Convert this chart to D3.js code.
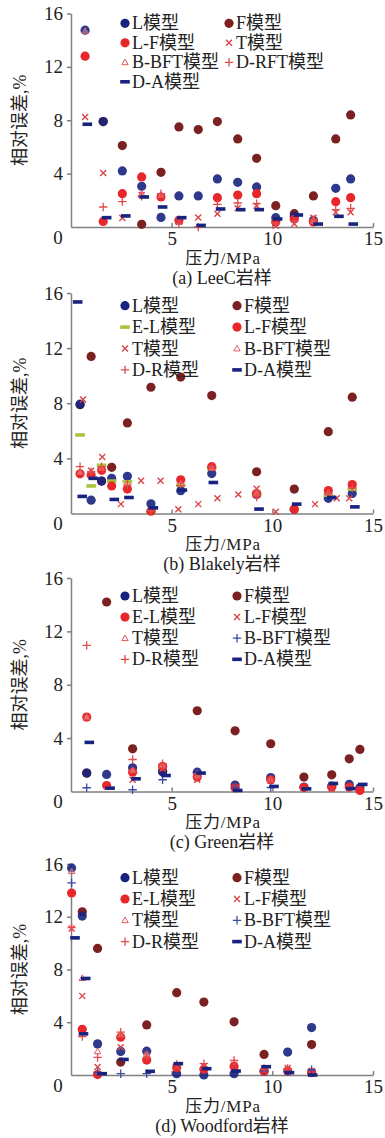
<!DOCTYPE html>
<html><head><meta charset="utf-8">
<script src="https://cdn.jsdelivr.net/npm/d3@7"></script>
<style>
html,body{margin:0;padding:0;background:#fff;}
svg{display:block;}
text{font-family:"Liberation Serif","Noto Sans CJK SC",serif;fill:#222;}
</style></head>
<body><svg id="c" width="385" height="1138"></svg>
<script>
// ---------- tick labels / text ----------
const yTicks = [4, 8, 12, 16];
const xTicks = [5, 10, 15];
const xTitle = "压力/MPa";
const yTitle = "相对误差,%";
const captions = ["(a) LeeC岩样", "(b) Blakely岩样", "(c) Green岩样", "(d) Woodford岩样"];

// ---------- legend labels ----------
const legendA = ["L模型","F模型","L-F模型","T模型","B-BFT模型","D-RFT模型","D-A模型"];
const legendB = ["L模型","F模型","E-L模型","L-F模型","T模型","B-BFT模型","D-R模型","D-A模型"];
const legendC = ["L模型","F模型","E-L模型","L-F模型","T模型","B-BFT模型","D-R模型","D-A模型"];
const legendD = ["L模型","F模型","E-L模型","L-F模型","T模型","B-BFT模型","D-R模型","D-A模型"];

// ---------- (a) LeeC : [pressure MPa, relative error %] ----------
const a_L = [[0.7,14.75],[1.6,7.9],[2.55,4.2],[3.51,3.05],[4.47,0.72],[5.36,2.33],[6.32,2.33],[7.27,3.6],[8.28,3.35],[9.22,3.0],[10.17,0.7],[11.09,0.8],[12.04,0.5],[13.15,2.9],[13.89,3.6]];
const a_F = [[1.6,7.9],[2.55,6.1],[3.51,0.2],[4.47,4.1],[5.36,7.5],[6.32,7.3],[7.27,7.9],[8.28,6.6],[9.22,5.15],[10.17,1.6],[11.09,1.0],[12.04,2.33],[13.15,6.6],[13.89,8.4]];
const a_LF = [[0.7,12.8],[1.6,0.42],[2.55,2.5],[3.51,3.75],[4.47,2.25],[5.36,0.5],[7.27,2.2],[8.28,2.4],[9.22,2.5],[10.17,0.38],[11.09,0.6],[12.04,0.38],[13.15,1.9],[13.89,2.2]];
const a_T = [[0.7,8.25],[1.6,4.05],[2.55,0.68],[3.51,2.4],[5.36,0.4],[6.32,0.72],[7.27,1.0],[8.28,1.4],[9.22,1.6],[10.17,0.1],[11.09,0.25],[12.04,0.7],[13.15,1.1],[13.89,1.1]];
const a_BBFT = [[0.7,14.7],[3.51,2.5],[4.47,2.4],[12.04,0.45]];
const a_DRFT = [[1.6,1.5],[2.55,1.9],[3.51,2.3],[4.47,2.5],[5.36,0.25],[6.32,0.0],[7.27,1.7],[8.28,1.8],[9.22,1.75],[10.17,0.3],[11.09,0.45],[12.04,0.55],[13.15,1.3],[13.89,1.4]];
const a_DA = [[0.81,7.7],[1.77,0.7],[2.72,0.83],[3.64,2.25],[4.55,1.5],[5.5,0.7],[6.46,0.12],[7.43,1.35],[8.43,1.3],[9.35,1.3],[10.26,0.6],[11.29,0.9],[12.28,0.22],[13.31,0.8],[14.02,0.22]];

// ---------- (b) Blakely ----------
const b_L = [[0.45,7.93],[1.0,0.97],[1.52,2.35],[2.02,2.55],[2.8,2.7],[3.97,0.7],[5.45,1.65],[6.99,2.9],[9.22,1.38],[11.09,0.3],[12.78,1.1],[13.97,1.45]];
const b_F = [[0.45,7.9],[1.0,11.4],[1.52,2.35],[2.02,3.35],[2.8,6.57],[3.97,9.16],[5.45,9.9],[6.99,8.56],[9.22,3.03],[11.09,1.77],[12.78,5.94],[13.97,8.44]];
const b_EL = [[0.45,5.7],[1.0,2.0],[1.52,3.5],[2.02,2.35],[2.8,2.3],[3.97,0.12],[5.45,2.06],[6.99,3.3],[9.22,1.38],[11.09,0.3],[12.78,1.33],[13.97,1.77]];
const b_LF = [[0.45,2.88],[1.0,2.8],[1.52,3.13],[2.02,2.0],[2.8,1.77],[3.97,0.17],[5.45,2.45],[6.99,3.4],[9.22,1.45],[11.09,0.3],[12.78,1.67],[13.97,2.1]];
const b_T = [[0.6,8.27],[1.0,3.1],[1.55,4.1],[2.48,0.68],[3.48,2.38],[4.45,2.38],[5.33,0.3],[6.32,0.68],[7.27,1.1],[8.31,1.38],[9.22,1.8],[10.17,0.12],[12.12,0.68],[13.2,1.1],[13.82,1.1]];
const b_BBFT = [[0.45,3.0],[1.52,3.3],[2.8,2.2],[5.45,2.2],[6.99,3.3],[9.22,1.5],[12.78,1.5]];
const b_DR = [[0.45,3.4],[1.0,3.03],[1.52,3.4],[2.8,2.06],[3.97,0.2],[5.45,2.0],[6.99,3.4],[9.22,1.19],[12.78,1.45],[13.97,1.87]];
const b_DA = [[0.33,15.35],[0.56,1.24],[1.11,2.55],[2.15,1.02],[2.88,1.16],[4.09,0.41],[5.53,1.7],[7.07,2.25],[9.34,0.32],[11.21,0.68],[12.95,1.16],[14.1,0.48]];

// ---------- (c) Green ----------
const c_L = [[0.78,1.38],[1.77,1.28],[3.06,1.78],[4.55,1.48],[6.27,1.45],[8.15,0.48],[9.92,1.05],[11.57,0.33],[12.95,0.4],[13.82,0.53],[14.35,0.28]];
const c_F = [[0.78,1.38],[1.77,14.2],[3.06,3.2],[4.55,1.5],[6.27,6.05],[8.15,4.55],[9.92,3.58],[11.57,1.08],[12.95,1.25],[13.82,2.45],[14.35,3.15]];
const c_EL = [[0.78,5.58],[1.77,0.45],[3.06,1.45],[4.55,1.88],[6.27,1.08],[8.15,0.28],[9.92,0.88],[11.57,0.3],[12.95,0.33],[13.82,0.33],[14.35,0.08]];
const c_LF = [[0.78,5.5],[3.06,0.88],[4.55,1.7],[6.27,0.88],[9.92,0.8],[12.95,0.2],[13.82,0.3]];
const c_T = [[0.78,5.6],[3.06,1.6],[4.55,2.0],[6.27,1.2],[9.92,0.9]];
const c_BBFT = [[0.78,0.28],[3.06,0.13],[4.55,0.88],[8.15,0.3],[9.92,0.3]];
const c_DR = [[0.78,10.95],[3.06,2.4],[4.55,2.08],[6.27,1.3],[9.92,0.8]];
const c_DA = [[0.91,3.68],[1.94,0.25],[3.23,0.95],[4.72,1.2],[6.46,1.38],[8.28,0.08],[10.08,0.38],[11.7,0.2],[13.03,0.6],[13.9,0.22],[14.49,0.53]];

// ---------- (d) Woodford ----------
const d_L = [[0.03,15.7],[0.56,12.05],[1.32,2.36],[2.47,1.79],[3.76,1.81],[5.25,0.1],[6.6,0.0],[8.1,0.1],[9.59,0.28],[10.76,1.74],[11.95,3.6]];
const d_F = [[0.56,12.38],[1.32,9.6],[2.47,0.98],[3.76,3.8],[5.25,6.24],[6.6,5.53],[8.1,4.03],[9.59,1.56],[11.95,2.31]];
const d_EL = [[0.03,13.8],[0.56,3.47],[1.32,0.03],[2.47,2.87],[3.76,1.13],[5.25,0.55],[6.6,0.43],[8.1,0.65],[9.59,0.28],[10.76,0.3],[11.95,0.18]];
const d_LF = [[0.03,11.1],[0.56,6.0],[1.32,0.6],[2.47,2.1],[3.76,1.5],[5.25,0.6],[6.6,0.68],[8.1,0.73],[9.59,0.48],[10.76,0.53],[11.95,0.3]];
const d_T = [[0.03,15.45],[0.56,7.35],[1.32,1.79],[2.47,3.07],[3.76,1.6]];
const d_BBFT = [[0.03,14.57],[1.32,0.2],[2.47,0.1],[3.76,0.1],[9.59,0.3],[10.76,0.25],[11.95,0.4]];
const d_DR = [[0.03,11.17],[0.56,2.92],[1.32,1.33],[2.47,3.25],[3.76,1.3],[5.25,0.8],[6.6,0.86],[8.1,1.1],[9.59,0.48],[10.76,0.5]];
const d_DA = [[0.2,10.4],[0.73,7.32],[0.62,3.12],[1.55,0.1],[2.63,1.18],[3.93,0.28],[5.33,0.86],[6.74,0.48],[8.2,0.3],[9.7,0.63],[10.85,0.18],[12.0,0.0]];

// ---------- styling ----------
const C = {navy:"#18237f", brown:"#7b2121", red:"#e8272b", xred:"#d9444a", tri:"#e05a5e", plus:"#e24a4e", green:"#a7c53c", bplus:"#3a4aa8", axis:"#808080"};

const panels = [
  {y0:227, y16:13.5, legendTop:23.3, legendStep:19.5, col2:229,
   series:[
    {data:a_L, shape:"circle", color:C.navy, label:legendA[0]},
    {data:a_F, shape:"circle", color:C.brown, label:legendA[1]},
    {data:a_LF, shape:"circle", color:C.red, label:legendA[2]},
    {data:a_T, shape:"x", color:C.xred, label:legendA[3]},
    {data:a_BBFT, shape:"tri", color:C.tri, label:legendA[4]},
    {data:a_DRFT, shape:"plus", color:C.plus, label:legendA[5]},
    {data:a_DA, shape:"dash", color:C.navy, label:legendA[6]}]},
  {y0:513.5, y16:293, legendTop:305.7, legendStep:21.4, col2:237,
   series:[
    {data:b_L, shape:"circle", color:C.navy, label:legendB[0]},
    {data:b_F, shape:"circle", color:C.brown, label:legendB[1]},
    {data:b_EL, shape:"dash", color:C.green, label:legendB[2]},
    {data:b_LF, shape:"circle", color:C.red, label:legendB[3]},
    {data:b_T, shape:"x", color:C.xred, label:legendB[4]},
    {data:b_BBFT, shape:"tri", color:C.tri, label:legendB[5]},
    {data:b_DR, shape:"plus", color:C.plus, label:legendB[6]},
    {data:b_DA, shape:"dash", color:C.navy, label:legendB[7]}]},
  {y0:791.5, y16:578, legendTop:596, legendStep:21.1, col2:237,
   series:[
    {data:c_L, shape:"circle", color:C.navy, label:legendC[0]},
    {data:c_F, shape:"circle", color:C.brown, label:legendC[1]},
    {data:c_EL, shape:"circle", color:C.red, label:legendC[2]},
    {data:c_LF, shape:"x", color:C.xred, label:legendC[3]},
    {data:c_T, shape:"tri", color:C.tri, label:legendC[4]},
    {data:c_BBFT, shape:"plus", color:C.bplus, label:legendC[5]},
    {data:c_DR, shape:"plus", color:C.plus, label:legendC[6]},
    {data:c_DA, shape:"dash", color:C.navy, label:legendC[7]}]},
  {y0:1075, y16:864, legendTop:877.7, legendStep:21.3, col2:237,
   series:[
    {data:d_L, shape:"circle", color:C.navy, label:legendD[0]},
    {data:d_F, shape:"circle", color:C.brown, label:legendD[1]},
    {data:d_EL, shape:"circle", color:C.red, label:legendD[2]},
    {data:d_LF, shape:"x", color:C.xred, label:legendD[3]},
    {data:d_T, shape:"tri", color:C.tri, label:legendD[4]},
    {data:d_BBFT, shape:"plus", color:C.bplus, label:legendD[5]},
    {data:d_DR, shape:"plus", color:C.plus, label:legendD[6]},
    {data:d_DA, shape:"dash", color:C.navy, label:legendD[7]}]}
];

const svg = d3.select("#c");
const x = d3.scaleLinear().domain([0,15]).range([71,373]);

function marker(g, shape, color, cx, cy, op){
  if(shape==="circle"){
    g.append("circle").attr("cx",cx).attr("cy",cy).attr("r",4.6).attr("fill",color).attr("fill-opacity",op);
  } else if(shape==="x"){
    const s=3;
    g.append("path").attr("d",`M${cx-s},${cy-s}L${cx+s},${cy+s}M${cx-s},${cy+s}L${cx+s},${cy-s}`)
      .attr("stroke",color).attr("stroke-width",1.4).attr("fill","none");
  } else if(shape==="plus"){
    const s=4.2;
    g.append("path").attr("d",`M${cx-s},${cy}L${cx+s},${cy}M${cx},${cy-s}L${cx},${cy+s}`)
      .attr("stroke",color).attr("stroke-width",1.3).attr("fill","none");
  } else if(shape==="tri"){
    const s=3.2;
    g.append("path").attr("d",`M${cx},${cy-s}L${cx+s},${cy+s*0.75}L${cx-s},${cy+s*0.75}Z`)
      .attr("stroke",color).attr("stroke-width",1).attr("fill","#fff").attr("fill-opacity",0.3);
  } else if(shape==="dash"){
    g.append("rect").attr("x",cx-4.8).attr("y",cy-1.8).attr("width",9.6).attr("height",3.6).attr("fill",color);
  }
}

panels.forEach((p,i)=>{
  const y = d3.scaleLinear().domain([0,16]).range([p.y0,p.y16]);
  const g = svg.append("g");

  // axes
  const ya = g.append("g").attr("transform","translate(71,0)")
    .call(d3.axisLeft(y).tickValues(yTicks).tickSize(4).tickSizeOuter(0).tickPadding(4));
  const xa = g.append("g").attr("transform",`translate(0,${p.y0})`)
    .call(d3.axisBottom(x).tickValues(xTicks).tickSizeInner(-4).tickSizeOuter(0).tickPadding(5));
  [ya,xa].forEach(a=>{
    a.selectAll("path,line").attr("stroke",C.axis).attr("stroke-width",1.5);
    a.selectAll("text").attr("font-size",19).attr("fill","#222")
      .attr("font-family",'"Liberation Serif",serif');
  });
  g.append("text").attr("x",58).attr("y",p.y0+10).attr("text-anchor","middle")
    .attr("dominant-baseline","central").attr("font-size",19).text("0");

  // titles
  g.append("text").attr("transform",`translate(20,${(p.y0+p.y16)/2}) rotate(-90)`)
    .attr("text-anchor","middle").attr("dominant-baseline","central").attr("font-size",18).text(yTitle);
  g.append("text").attr("x",223).attr("y",p.y0+31).attr("text-anchor","middle")
    .attr("dominant-baseline","central").attr("font-size",17).attr("letter-spacing",0.8).text(xTitle);
  g.append("text").attr("x",222).attr("y",p.y0+50.5).attr("text-anchor","middle")
    .attr("dominant-baseline","central").attr("font-size",18).text(captions[i]);

  // data: F drawn first, then the rest in legend order
  const order = [1].concat(p.series.map((_,k)=>k).filter(k=>k!==1));
  const dg = g.append("g");
  order.forEach(k=>{
    const s = p.series[k];
    s.data.forEach(d=>marker(dg, s.shape, s.color, x(d[0]), y(d[1]), k===0?0.9:1));
  });

  // legend
  const lg = g.append("g");
  p.series.forEach((s,k)=>{
    const row = Math.floor(k/2), col = k%2;
    const mx = col===0 ? 125 : p.col2;
    const my = p.legendTop + row*p.legendStep;
    marker(lg, s.shape, s.color, mx, my, 1);
    lg.append("text").attr("x",mx+7).attr("y",my).attr("dominant-baseline","central")
      .attr("font-size",18).text(s.label);
  });
});
</script></body></html>
